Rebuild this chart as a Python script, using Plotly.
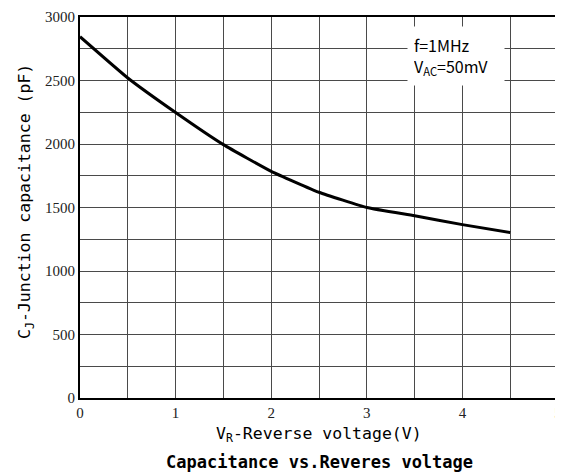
import plotly.graph_objects as go

voltage = [0, 0.5, 1.0, 1.5, 2.0, 2.5, 3.0, 3.5, 4.0, 4.5]
capacitance = [2845, 2520, 2248, 1995, 1785, 1620, 1500, 1435, 1365, 1303]

x_ticks = [0, 1, 2, 3, 4, 5]
y_ticks = [0, 500, 1000, 1500, 2000, 2500, 3000]

fig = go.Figure()
fig.add_trace(go.Scatter(x=voltage, y=capacitance, mode="lines",
                         line=dict(color="black", width=3, shape="spline", smoothing=0.4),
                         showlegend=False, hoverinfo="skip"))

tickfont = dict(family="Liberation Serif, serif", size=15, color="#222")
common = dict(showgrid=True, gridcolor="#4a4a4a", gridwidth=1.4,
              showline=True, linecolor="black", linewidth=2, mirror=True,
              zeroline=False, tickfont=tickfont, ticks="", fixedrange=True,
              ticklabeloverflow="allow")
fig.update_xaxes(range=[0, 5], tickvals=x_ticks, ticktext=[str(v) for v in x_ticks],
                 minor=dict(dtick=0.5, showgrid=True, gridcolor="#4a4a4a", gridwidth=1.4),
                 **common)
fig.update_yaxes(range=[0, 3000], tickvals=y_ticks, ticktext=[str(v) for v in y_ticks],
                 minor=dict(dtick=250, showgrid=True, gridcolor="#4a4a4a", gridwidth=1.4),
                 **common)

mono = "DejaVu Sans Mono, Noto Sans CJK SC, monospace"
fig.add_annotation(xref="paper", yref="paper", x=0.5, y=-0.0964, yanchor="middle", xanchor="center",
                   text="V<sub>R</sub>-Reverse voltage(V)", showarrow=False,
                   font=dict(family=mono, size=16.5, color="black"))
fig.add_annotation(xref="paper", yref="paper", x=0.5, y=-0.1667, yanchor="middle", xanchor="center",
                   text="<b>Capacitance vs.Reveres voltage</b>", showarrow=False,
                   font=dict(family=mono, size=17, color="black"))
fig.add_annotation(xref="paper", yref="paper", x=-0.114, y=0.516, textangle=-90,
                   xanchor="center", yanchor="middle",
                   text="C<sub>J</sub>-Junction capacitance (pF)",
                   showarrow=False,
                   font=dict(family=mono, size=16.5, color="black"))
fig.add_annotation(x=3.93, y=2690, xref="x", yref="y",
                   text="f=1MHz<br>V<sub>AC</sub>=50mV", showarrow=False, align="left",
                   bgcolor="white", borderpad=6, width=84, height=46,
                   font=dict(family="Noto Sans CJK SC, DejaVu Sans", size=16, color="black"))

fig.update_layout(width=555, height=467, margin=dict(l=72, r=1, t=6, b=77),
                  plot_bgcolor="white", paper_bgcolor="white")
fig.write_html("out.html")
